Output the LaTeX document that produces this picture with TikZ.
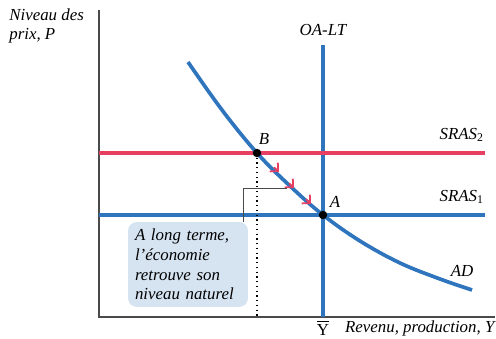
\documentclass[tikz,border=0pt]{standalone}
\usepackage{fontspec}
\setmainfont{Liberation Serif}
\usepackage{tikz}
\usetikzlibrary{arrows.meta,positioning,calc}
\definecolor{CurveBlue}{HTML}{2E75BE}
\definecolor{ShortRed}{HTML}{E63F62}
\definecolor{NoteBlue}{HTML}{D6E4F2}
\definecolor{AxisGray}{HTML}{4A4A4A}

\begin{document}
\begin{tikzpicture}[x=0.02cm,y=0.02cm,
  every node/.style={font=\fontsize{9.6}{11.2}\selectfont\rmfamily\itshape,inner sep=1pt},
  axis/.style={draw=AxisGray,line width=0.6pt},
  bluecurve/.style={draw=CurveBlue,line width=2.1pt},
  redcurve/.style={draw=ShortRed,line width=2.1pt},
  shiftarr/.style={draw=ShortRed,line width=1pt,-{Straight Barb[length=3.4pt,width=6.8pt]}},
  leader/.style={draw=AxisGray,line width=0.5pt},
  callout/.style={fill=NoteBlue,rounded corners=5pt,minimum width=2.4cm,
    minimum height=1.7cm,inner xsep=4pt,text width=2.4cm-8pt,align=left}]
  \useasboundingbox (0,0) rectangle (496,338);
  % axes
  \coordinate (O) at (99,21);
  \coordinate (ytop) at (99,328);
  \coordinate (xend) at (495,21);
  \draw[axis] (ytop) -- (O) -- (xend);
  \node[anchor=north west,align=left,inner sep=0pt] (ylab) at (9,330) {Niveau des\\prix, P};
  \node[anchor=west] (xlab) at (343,10) {Revenu, production, Y};
  \node (ybar) at (323,10) {\upshape$\overline{\hbox{Y}}$};
  % long-run supply
  \coordinate (lrtop) at (323,293);
  \coordinate (lrbot) at (323,21);
  \draw[bluecurve] (lrbot) -- (lrtop);
  \node (lrlab) at (323,308) {OA-LT};
  % short-run supplies
  \coordinate (s2a) at (99,185);
  \coordinate (s2b) at (485,185);
  \coordinate (s1a) at (99,123);
  \coordinate (s1b) at (485,123);
  \draw[redcurve] (s2a) -- (s2b);
  \draw[bluecurve] (s1a) -- (s1b);
  \node[anchor=east] (s2lab) at (486,203) {SRAS\textsubscript{\upshape 2}};
  \node[anchor=east] (s1lab) at (486,141) {SRAS\textsubscript{\upshape 1}};
  % equilibria
  \coordinate (B) at (257,185);
  \coordinate (A) at (323,123);
  \coordinate (Bfoot) at (257,21);
  \draw[dotted,line width=0.7pt] (B) -- (Bfoot);
  % demand
  \draw[bluecurve] plot[smooth,tension=0.6] coordinates
    {(188,276) (222,228) (257,185) (290,152) (323,123) (360,97) (400,75) (440,59) (472,48)};
  \node (adlab) at (462,67) {AD};
  \fill (B) circle (2.4pt);
  \fill (A) circle (2.4pt);
  \node (blab) at (264,199) {B};
  \node (alab) at (335,136) {A};
  % movement B -> A
  \foreach \x/\y [count=\i] in {279/166, 294/150, 311/134} {
    \coordinate (t\i) at (\x,\y);
    \draw[shiftarr] ($(t\i)+(-5,4.7)$) -- (t\i);
  }
  % note
  \node[callout] (note) at (188,73.5) {A long terme,\\l’économie\\retrouve son\\niveau naturel};
  \coordinate (ldrfoot) at (243,116);
  \coordinate (ldr) at (287,150);
  \draw[leader] (ldrfoot) |- (ldr);
\end{tikzpicture}
\end{document}
